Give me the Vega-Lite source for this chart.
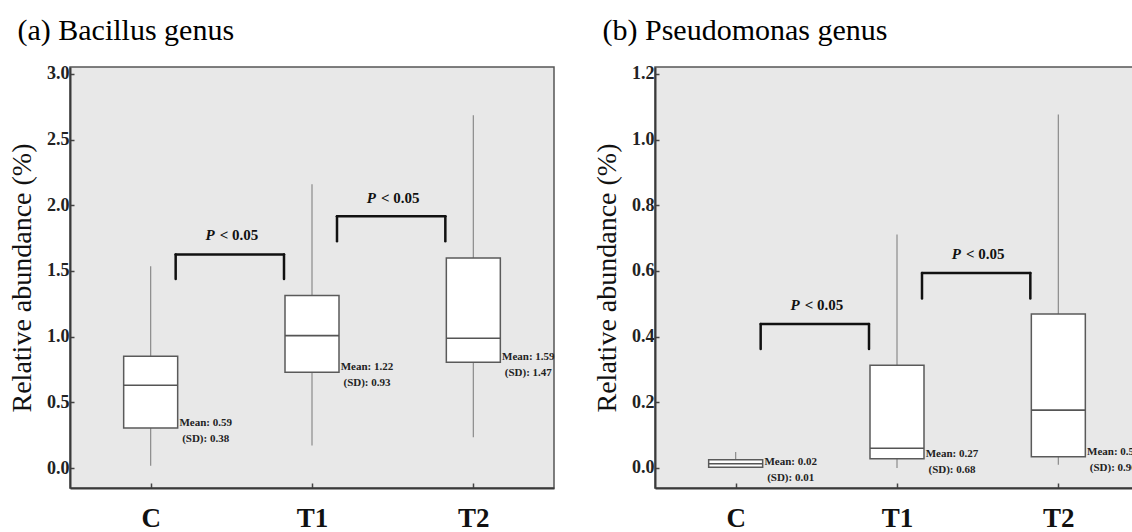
{
  "$schema": "https://vega.github.io/schema/vega-lite/v6.json",
  "background": "white",
  "padding": {"left": 7, "top": 15, "right": 0, "bottom": 0},
  "spacing": 36,
  "datasets": {
    "box": [
      {"panel": "a", "group": "C", "lo": 0.018, "q1": 0.305, "med": 0.63, "q3": 0.851, "hi": 1.536, "mean": "Mean: 0.59", "sd": "(SD): 0.38"},
      {"panel": "a", "group": "T1", "lo": 0.171, "q1": 0.729, "med": 1.008, "q3": 1.313, "hi": 2.16, "mean": "Mean: 1.22", "sd": "(SD): 0.93"},
      {"panel": "a", "group": "T2", "lo": 0.234, "q1": 0.805, "med": 0.988, "q3": 1.599, "hi": 2.686, "mean": "Mean: 1.59", "sd": "(SD): 1.47"},
      {"panel": "b", "group": "C", "lo": 0.0, "q1": 0.002, "med": 0.013, "q3": 0.025, "hi": 0.049, "mean": "Mean: 0.02", "sd": "(SD): 0.01"},
      {"panel": "b", "group": "T1", "lo": 0.0, "q1": 0.028, "med": 0.06, "q3": 0.313, "hi": 0.711, "mean": "Mean: 0.27", "sd": "(SD): 0.68"},
      {"panel": "b", "group": "T2", "lo": 0.01, "q1": 0.034, "med": 0.176, "q3": 0.469, "hi": 1.076, "mean": "Mean: 0.54", "sd": "(SD): 0.96"}
    ],
    "cmp": [
      {"panel": "a", "from": "C", "to": "T1", "y_top": 1.625, "y_bot": 1.439, "label_y": 1.777, "p": "P", "thr": "< 0.05"},
      {"panel": "a", "from": "T1", "to": "T2", "y_top": 1.916, "y_bot": 1.726, "label_y": 2.056, "p": "P", "thr": "< 0.05"},
      {"panel": "b", "from": "C", "to": "T1", "y_top": 0.4386, "y_bot": 0.3625, "label_y": 0.4965, "p": "P", "thr": "< 0.05"},
      {"panel": "b", "from": "T1", "to": "T2", "y_top": 0.594, "y_bot": 0.5157, "label_y": 0.651, "p": "P", "thr": "< 0.05"}
    ]
  },
  "config": {
    "view": {"fill": "#e8e8e8", "stroke": "#555555", "strokeWidth": 1.5},
    "axis": {"grid": false, "labelFont": "Liberation Serif", "labelFontWeight": "bold", "labelColor": "#222222", "domainColor": "#3a3a3a", "domainWidth": 2, "tickColor": "#444444", "tickWidth": 1.5},
    "axisY": {"labelFontSize": 18, "tickSize": -4, "labelPadding": 5, "titleFont": "Liberation Serif", "titleFontSize": 28, "titleFontWeight": "normal", "titleColor": "#111111", "titlePadding": 10},
    "axisX": {"labelFontSize": 27, "tickSize": -5, "labelPadding": 22, "labelAngle": 0, "labelColor": "#111111"},
    "title": {"anchor": "start", "frame": "bounds", "font": "Liberation Serif", "fontSize": 30, "fontWeight": "normal", "color": "#000000", "offset": 19, "dx": 9}
  },
  "hconcat": [
    {
      "title": "(a) Bacillus genus",
      "width": 484,
      "height": 421,
      "data": {"name": "box"},
      "layer": [
        {
          "transform": [{"filter": "datum.panel === 'a'"}],
          "mark": {"type": "rule", "color": "#8a8a8a", "strokeWidth": 1.2},
          "encoding": {
            "x": {"field": "group", "type": "nominal", "title": null, "sort": ["C", "T1", "T2"], "scale": {"type": "point", "padding": 0.5, "domain": ["C", "T1", "T2"]}},
            "y": {"field": "lo", "type": "quantitative", "title": "Relative abundance (%)", "scale": {"domain": [-0.152, 3.053], "nice": false, "zero": false}, "axis": {"values": [0, 0.5, 1, 1.5, 2, 2.5, 3], "format": ".1f"}},
            "y2": {"field": "hi"}
          }
        },
        {
          "transform": [{"filter": "datum.panel === 'a'"}],
          "mark": {"type": "bar", "width": 54, "fill": "white", "stroke": "#5a5a5a", "strokeWidth": 1.5},
          "encoding": {
            "x": {"field": "group", "type": "nominal", "title": null},
            "y": {"field": "q1", "type": "quantitative", "title": "Relative abundance (%)"},
            "y2": {"field": "q3"}
          }
        },
        {
          "transform": [{"filter": "datum.panel === 'a'"}],
          "mark": {"type": "tick", "orient": "horizontal", "size": 54, "thickness": 1.6, "color": "#555555", "opacity": 1},
          "encoding": {
            "x": {"field": "group", "type": "nominal", "title": null},
            "y": {"field": "med", "type": "quantitative", "title": "Relative abundance (%)"}
          }
        },
        {
          "transform": [{"filter": "datum.panel === 'a'"}],
          "mark": {"type": "text", "font": "Liberation Serif", "fontWeight": "bold", "fontSize": 11, "dx": 55, "dy": -5, "align": "center", "baseline": "middle", "color": "#222222"},
          "encoding": {
            "x": {"field": "group", "type": "nominal", "title": null},
            "y": {"field": "q1", "type": "quantitative", "title": "Relative abundance (%)"},
            "text": {"field": "mean"}
          }
        },
        {
          "transform": [{"filter": "datum.panel === 'a'"}],
          "mark": {"type": "text", "font": "Liberation Serif", "fontWeight": "bold", "fontSize": 11, "dx": 55, "dy": 11, "align": "center", "baseline": "middle", "color": "#222222"},
          "encoding": {
            "x": {"field": "group", "type": "nominal", "title": null},
            "y": {"field": "q1", "type": "quantitative", "title": "Relative abundance (%)"},
            "text": {"field": "sd"}
          }
        },
        {
          "data": {"name": "cmp"},
          "transform": [{"filter": "datum.panel === 'a'"}],
          "mark": {"type": "rule", "color": "#111111", "strokeWidth": 2.5, "strokeCap": "round", "xOffset": 25, "x2Offset": -28},
          "encoding": {
            "x": {"field": "from", "type": "nominal", "title": null},
            "x2": {"field": "to"},
            "y": {"field": "y_top", "type": "quantitative", "title": "Relative abundance (%)"}
          }
        },
        {
          "data": {"name": "cmp"},
          "transform": [{"filter": "datum.panel === 'a'"}],
          "mark": {"type": "rule", "color": "#111111", "strokeWidth": 2.5, "strokeCap": "round", "xOffset": 25},
          "encoding": {
            "x": {"field": "from", "type": "nominal", "title": null},
            "y": {"field": "y_bot", "type": "quantitative", "title": "Relative abundance (%)"},
            "y2": {"field": "y_top"}
          }
        },
        {
          "data": {"name": "cmp"},
          "transform": [{"filter": "datum.panel === 'a'"}],
          "mark": {"type": "rule", "color": "#111111", "strokeWidth": 2.5, "strokeCap": "round", "xOffset": -28},
          "encoding": {
            "x": {"field": "to", "type": "nominal", "title": null},
            "y": {"field": "y_bot", "type": "quantitative", "title": "Relative abundance (%)"},
            "y2": {"field": "y_top"}
          }
        },
        {
          "data": {"name": "cmp"},
          "transform": [{"filter": "datum.panel === 'a'"}],
          "mark": {"type": "text", "font": "Liberation Serif", "fontWeight": "bold", "fontStyle": "italic", "fontSize": 15, "dx": 64, "align": "right", "baseline": "middle", "color": "#111111"},
          "encoding": {
            "x": {"field": "from", "type": "nominal", "title": null},
            "y": {"field": "label_y", "type": "quantitative", "title": "Relative abundance (%)"},
            "text": {"field": "p"}
          }
        },
        {
          "data": {"name": "cmp"},
          "transform": [{"filter": "datum.panel === 'a'"}],
          "mark": {"type": "text", "font": "Liberation Serif", "fontWeight": "bold", "fontSize": 15, "dx": 69, "align": "left", "baseline": "middle", "color": "#111111"},
          "encoding": {
            "x": {"field": "from", "type": "nominal", "title": null},
            "y": {"field": "label_y", "type": "quantitative", "title": "Relative abundance (%)"},
            "text": {"field": "thr"}
          }
        }
      ]
    },
    {
      "title": "(b) Pseudomonas genus",
      "width": 484,
      "height": 421,
      "data": {"name": "box"},
      "layer": [
        {
          "transform": [{"filter": "datum.panel === 'b'"}],
          "mark": {"type": "rule", "color": "#8a8a8a", "strokeWidth": 1.2},
          "encoding": {
            "x": {"field": "group", "type": "nominal", "title": null, "sort": ["C", "T1", "T2"], "scale": {"type": "point", "padding": 0.5, "domain": ["C", "T1", "T2"]}},
            "y": {"field": "lo", "type": "quantitative", "title": "Relative abundance (%)", "scale": {"domain": [-0.061, 1.221], "nice": false, "zero": false}, "axis": {"values": [0, 0.2, 0.4, 0.6, 0.8, 1.0, 1.2], "format": ".1f"}},
            "y2": {"field": "hi"}
          }
        },
        {
          "transform": [{"filter": "datum.panel === 'b'"}],
          "mark": {"type": "bar", "width": 54, "fill": "white", "stroke": "#5a5a5a", "strokeWidth": 1.5},
          "encoding": {
            "x": {"field": "group", "type": "nominal", "title": null},
            "y": {"field": "q1", "type": "quantitative", "title": "Relative abundance (%)"},
            "y2": {"field": "q3"}
          }
        },
        {
          "transform": [{"filter": "datum.panel === 'b'"}],
          "mark": {"type": "tick", "orient": "horizontal", "size": 54, "thickness": 1.6, "color": "#555555", "opacity": 1},
          "encoding": {
            "x": {"field": "group", "type": "nominal", "title": null},
            "y": {"field": "med", "type": "quantitative", "title": "Relative abundance (%)"}
          }
        },
        {
          "transform": [{"filter": "datum.panel === 'b'"}],
          "mark": {"type": "text", "font": "Liberation Serif", "fontWeight": "bold", "fontSize": 11, "dx": 55, "dy": -5, "align": "center", "baseline": "middle", "color": "#222222", "clip": true},
          "encoding": {
            "x": {"field": "group", "type": "nominal", "title": null},
            "y": {"field": "q1", "type": "quantitative", "title": "Relative abundance (%)"},
            "text": {"field": "mean"}
          }
        },
        {
          "transform": [{"filter": "datum.panel === 'b'"}],
          "mark": {"type": "text", "font": "Liberation Serif", "fontWeight": "bold", "fontSize": 11, "dx": 55, "dy": 11, "align": "center", "baseline": "middle", "color": "#222222", "clip": true},
          "encoding": {
            "x": {"field": "group", "type": "nominal", "title": null},
            "y": {"field": "q1", "type": "quantitative", "title": "Relative abundance (%)"},
            "text": {"field": "sd"}
          }
        },
        {
          "data": {"name": "cmp"},
          "transform": [{"filter": "datum.panel === 'b'"}],
          "mark": {"type": "rule", "color": "#111111", "strokeWidth": 2.5, "strokeCap": "round", "xOffset": 25, "x2Offset": -28},
          "encoding": {
            "x": {"field": "from", "type": "nominal", "title": null},
            "x2": {"field": "to"},
            "y": {"field": "y_top", "type": "quantitative", "title": "Relative abundance (%)"}
          }
        },
        {
          "data": {"name": "cmp"},
          "transform": [{"filter": "datum.panel === 'b'"}],
          "mark": {"type": "rule", "color": "#111111", "strokeWidth": 2.5, "strokeCap": "round", "xOffset": 25},
          "encoding": {
            "x": {"field": "from", "type": "nominal", "title": null},
            "y": {"field": "y_bot", "type": "quantitative", "title": "Relative abundance (%)"},
            "y2": {"field": "y_top"}
          }
        },
        {
          "data": {"name": "cmp"},
          "transform": [{"filter": "datum.panel === 'b'"}],
          "mark": {"type": "rule", "color": "#111111", "strokeWidth": 2.5, "strokeCap": "round", "xOffset": -28},
          "encoding": {
            "x": {"field": "to", "type": "nominal", "title": null},
            "y": {"field": "y_bot", "type": "quantitative", "title": "Relative abundance (%)"},
            "y2": {"field": "y_top"}
          }
        },
        {
          "data": {"name": "cmp"},
          "transform": [{"filter": "datum.panel === 'b'"}],
          "mark": {"type": "text", "font": "Liberation Serif", "fontWeight": "bold", "fontStyle": "italic", "fontSize": 15, "dx": 64, "align": "right", "baseline": "middle", "color": "#111111"},
          "encoding": {
            "x": {"field": "from", "type": "nominal", "title": null},
            "y": {"field": "label_y", "type": "quantitative", "title": "Relative abundance (%)"},
            "text": {"field": "p"}
          }
        },
        {
          "data": {"name": "cmp"},
          "transform": [{"filter": "datum.panel === 'b'"}],
          "mark": {"type": "text", "font": "Liberation Serif", "fontWeight": "bold", "fontSize": 15, "dx": 69, "align": "left", "baseline": "middle", "color": "#111111"},
          "encoding": {
            "x": {"field": "from", "type": "nominal", "title": null},
            "y": {"field": "label_y", "type": "quantitative", "title": "Relative abundance (%)"},
            "text": {"field": "thr"}
          }
        }
      ]
    }
  ]
}
